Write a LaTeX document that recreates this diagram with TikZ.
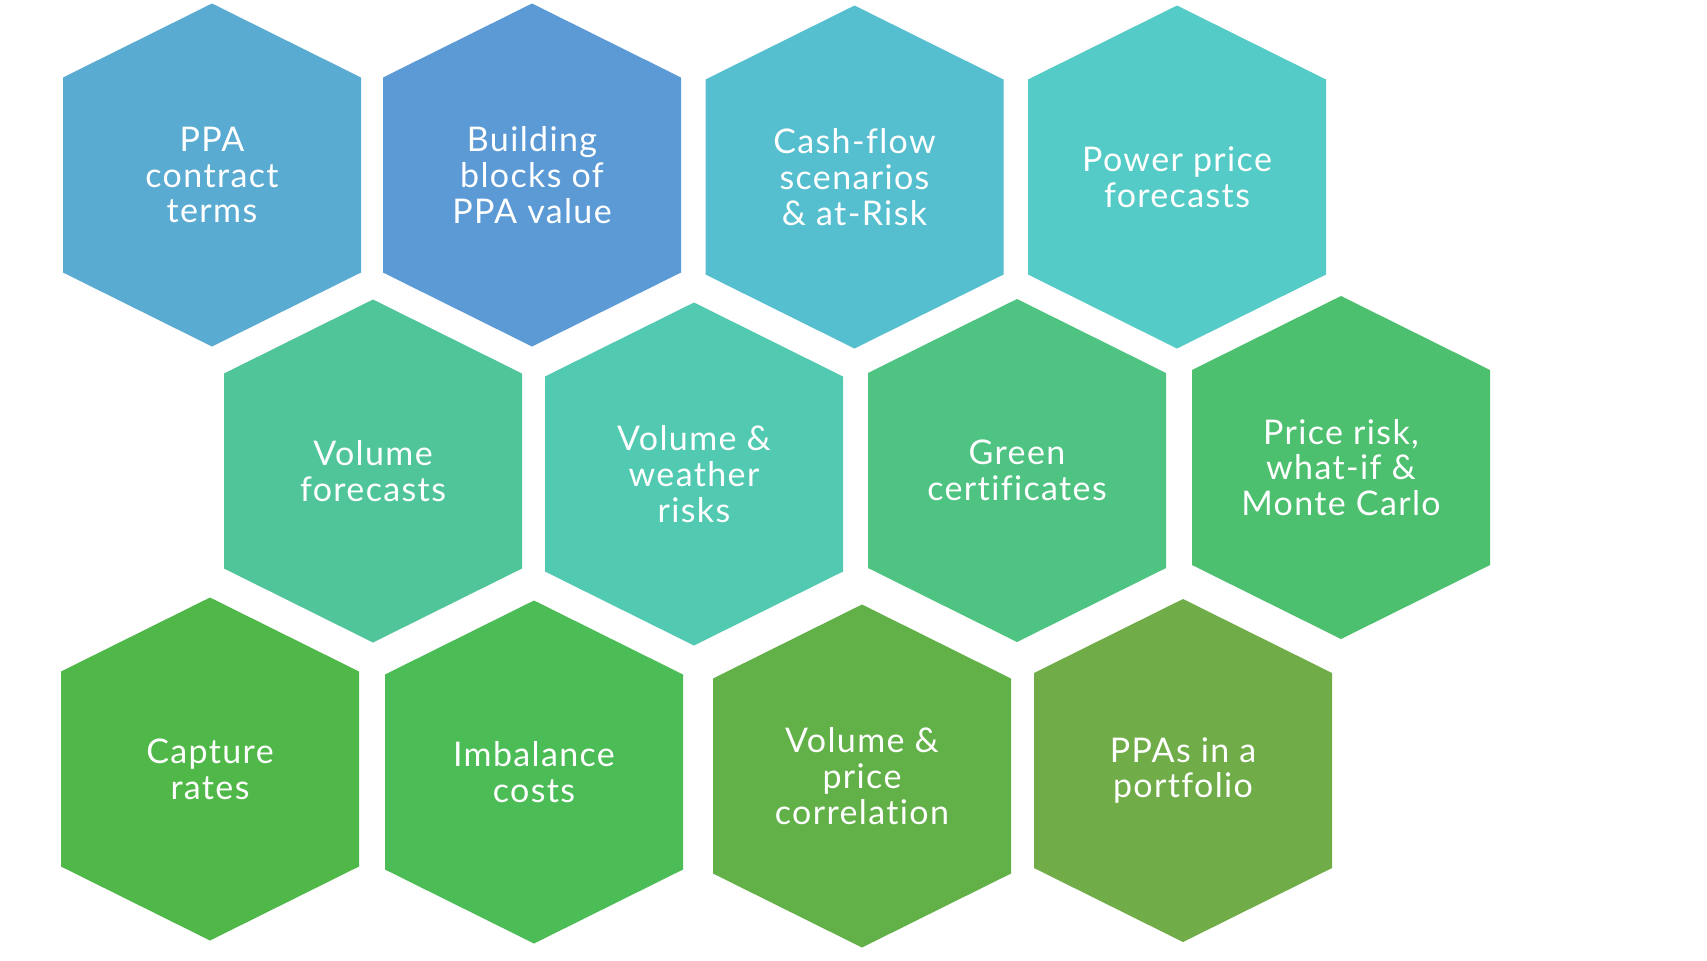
\documentclass[tikz,border=0pt]{standalone}
\usepackage{fontspec}
\setmainfont{Lato}[LetterSpace=4, Ligatures=NoCommon]
\definecolor{cPPA}{HTML}{5AABD2}
\definecolor{cBuild}{HTML}{5B9AD5}
\definecolor{cCash}{HTML}{55BECF}
\definecolor{cPower}{HTML}{54CBC6}
\definecolor{cVolF}{HTML}{50C59A}
\definecolor{cVolW}{HTML}{52C9B1}
\definecolor{cGreen}{HTML}{4EC382}
\definecolor{cPrice}{HTML}{4CC06E}
\definecolor{cCapt}{HTML}{4FB848}
\definecolor{cImb}{HTML}{4BBC56}
\definecolor{cVolP}{HTML}{62B148}
\definecolor{cPort}{HTML}{70AC48}
\tikzset{
  hexlabel/.style={text=white, align=center, inner sep=0pt,
    font=\fontsize{17}{17.9}\selectfont}
}
\begin{document}
\begin{tikzpicture}[x=0.5pt, y=-0.5pt]
\useasboundingbox[fill=white] (0,0) rectangle (1707,960);
\foreach \n/\cx/\cy/\c/\t in {
  ppa/212/175/cPPA/{PPA\\contract\\terms},
  build/532/175/cBuild/{Building\\blocks of\\PPA value},
  cash/854.5/177/cCash/{Cash-flow\\scenarios\\\& at-Risk},
  power/1177/177/cPower/{Power price\\forecasts},
  volf/373/471/cVolF/{Volume\\forecasts},
  volw/694/474/cVolW/{Volume \&\\weather\\risks},
  green/1017/470.5/cGreen/{Green\\certificates},
  price/1341/467.5/cPrice/{Price risk,\\what-if \&\\Monte Carlo},
  capt/210/769/cCapt/{Capture\\rates},
  imb/534/772/cImb/{Imbalance\\costs},
  volp/862/776/cVolP/{Volume \&\\price\\correlation},
  port/1183/770.5/cPort/{PPAs in a\\portfolio}}{
  \begin{scope}[shift={(\cx,\cy)}]
    \fill[\c] (-149,-97.5) -- (0,-171.5) -- (149,-97.5) -- (149,97.5)
      -- (0,171.5) -- (-149,97.5) -- cycle;
    \node[hexlabel] (\n) at (0,0) {\t};
  \end{scope}
}
\end{tikzpicture}
\end{document}
